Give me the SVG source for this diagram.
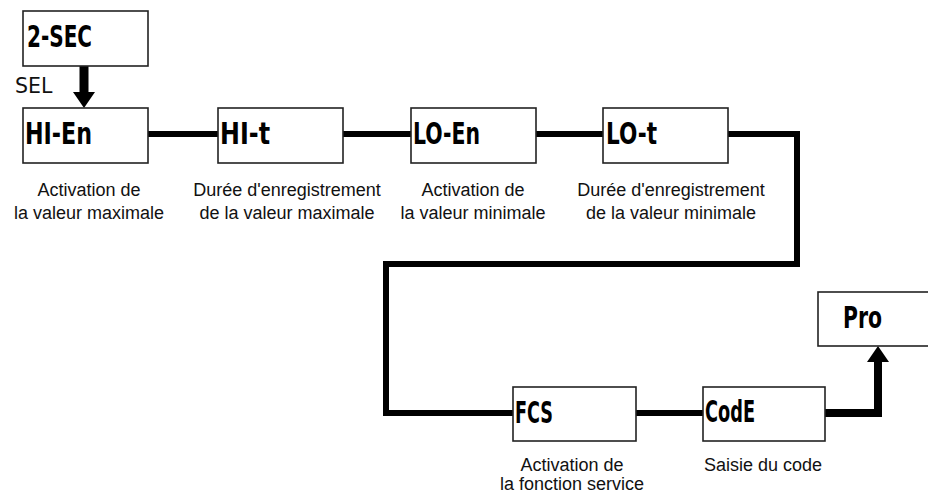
<svg xmlns="http://www.w3.org/2000/svg" width="928" height="493" viewBox="0 0 928 493">
  <style>
    .box { fill: #ffffff; stroke: #222222; stroke-width: 1.6; }
    .lcd { font-family: "DejaVu Sans Condensed", "DejaVu Sans", sans-serif; font-weight: bold; font-size: 30px; fill: #000000; }
    .lbl { font-family: "Liberation Sans", Arial, sans-serif; font-size: 18px; fill: #111111; text-anchor: middle; }
    .sel { font-family: "DejaVu Sans", sans-serif; font-size: 20.5px; fill: #111111; }
    .wire { fill: none; stroke: #000000; stroke-width: 6; stroke-linejoin: miter; }
    .thick { fill: none; stroke: #000000; stroke-width: 9; }
  </style>
  <defs>
    <marker id="head" markerUnits="userSpaceOnUse" markerWidth="16" markerHeight="22" viewBox="0 0 16 22" refX="0" refY="11" orient="auto">
      <path d="M0,0 L16,11 L0,22 z" fill="#000000"/>
    </marker>
  </defs>

  <g id="connectors">
    <line class="thick" x1="84" y1="66" x2="84" y2="92" marker-end="url(#head)"/>
    <line class="wire" x1="148" y1="134" x2="218" y2="134"/>
    <line class="wire" x1="343" y1="134" x2="411" y2="134"/>
    <line class="wire" x1="536" y1="134" x2="603" y2="134"/>
    <polyline class="wire" points="728,134 797,134 797,264 386,264 386,413 513,413"/>
    <line class="wire" x1="636" y1="413" x2="703" y2="413"/>
    <polyline class="wire" points="825,413 878,413 878,362" style="stroke-width:8"/>
    <line x1="878" y1="370" x2="878" y2="362" stroke="#000" stroke-width="8" marker-end="url(#head)"/>
  </g>

  <g id="node-2sec">
    <rect class="box" x="23" y="11" width="125" height="55"/>
    <text class="lcd" x="27" y="47" textLength="65" lengthAdjust="spacingAndGlyphs">2-SEC</text>
  </g>
  <text class="sel" x="15" y="93">SEL</text>

  <g id="node-hien">
    <rect class="box" x="23" y="108" width="125" height="55"/>
    <text class="lcd" x="25" y="144" textLength="67" lengthAdjust="spacingAndGlyphs">HI-En</text>
    <text class="lbl" x="89" y="196">Activation de</text>
    <text class="lbl" x="89" y="219">la valeur maximale</text>
  </g>

  <g id="node-hit">
    <rect class="box" x="218" y="108" width="125" height="55"/>
    <text class="lcd" x="220" y="144" textLength="50" lengthAdjust="spacingAndGlyphs">HI-t</text>
    <text class="lbl" x="287" y="196">Durée d'enregistrement</text>
    <text class="lbl" x="287" y="219">de la valeur maximale</text>
  </g>

  <g id="node-loen">
    <rect class="box" x="411" y="108" width="125" height="55"/>
    <text class="lcd" x="413" y="144" textLength="67" lengthAdjust="spacingAndGlyphs">LO-En</text>
    <text class="lbl" x="473" y="196">Activation de</text>
    <text class="lbl" x="473" y="219">la valeur minimale</text>
  </g>

  <g id="node-lot">
    <rect class="box" x="603" y="108" width="125" height="55"/>
    <text class="lcd" x="606" y="144" textLength="51" lengthAdjust="spacingAndGlyphs">LO-t</text>
    <text class="lbl" x="671" y="196">Durée d'enregistrement</text>
    <text class="lbl" x="671" y="219">de la valeur minimale</text>
  </g>

  <g id="node-fcs">
    <rect class="box" x="513" y="387" width="123" height="54"/>
    <text class="lcd" x="515" y="423" textLength="38" lengthAdjust="spacingAndGlyphs">FCS</text>
    <text class="lbl" x="572" y="471">Activation de</text>
    <text class="lbl" x="572" y="490">la fonction service</text>
  </g>

  <g id="node-code">
    <rect class="box" x="703" y="387" width="122" height="54"/>
    <text class="lcd" x="705" y="422" textLength="50" lengthAdjust="spacingAndGlyphs">CodE</text>
    <text class="lbl" x="763" y="471">Saisie du code</text>
  </g>

  <g id="node-pro">
    <rect class="box" x="818" y="292" width="125" height="54"/>
    <text class="lcd" x="843" y="328" textLength="39" lengthAdjust="spacingAndGlyphs">Pro</text>
  </g>
</svg>
